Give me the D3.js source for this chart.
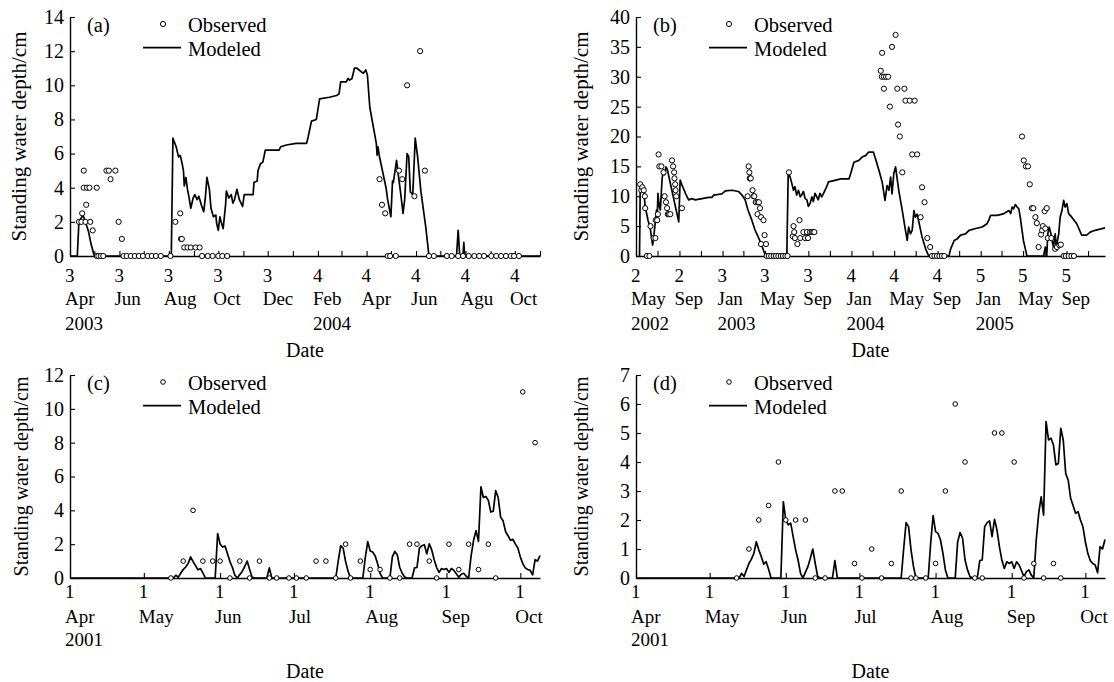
<!DOCTYPE html>
<html><head><meta charset="utf-8">
<script src="https://cdn.jsdelivr.net/npm/d3@7"></script>
<style>
html,body{margin:0;padding:0;background:#fff;}
svg{display:block;}
svg text{font-family:"Liberation Serif","DejaVu Serif",serif !important;fill:#000;}
</style></head><body>
<svg id="chart" width="1114" height="682" font-family="Liberation Serif, serif"></svg>
<script>
// ---------------- DATA ----------------
// Panel (a)
const aModeled = [["2003-04-01",0],["2003-04-10",0],["2003-04-12",2.0],["2003-04-17",2.4],["2003-04-20",2.0],["2003-04-24",1.4],["2003-04-27",0.7],["2003-05-01",0],["2003-08-04",0],["2003-08-06",6.9],["2003-08-10",6.4],["2003-08-13",5.8],["2003-08-15",5.9],["2003-08-17",5.5],["2003-08-19",5.0],["2003-08-20",4.1],["2003-08-22",4.6],["2003-08-24",3.9],["2003-08-26",3.4],["2003-08-28",2.8],["2003-08-31",3.4],["2003-09-02",3.6],["2003-09-05",3.3],["2003-09-07",3.5],["2003-09-10",3.0],["2003-09-13",2.6],["2003-09-15",3.4],["2003-09-17",4.6],["2003-09-20",3.9],["2003-09-22",2.8],["2003-09-25",2.3],["2003-09-28",2.4],["2003-09-29",1.9],["2003-10-01",1.5],["2003-10-03",2.3],["2003-10-04",2.1],["2003-10-07",1.6],["2003-10-10",3.0],["2003-10-11",3.8],["2003-10-14",3.4],["2003-10-17",3.6],["2003-10-19",3.1],["2003-10-21",3.3],["2003-10-24",3.9],["2003-10-27",3.3],["2003-10-31",2.9],["2003-11-02",3.6],["2003-11-13",3.6],["2003-11-14",4.3],["2003-11-18",4.4],["2003-11-19",5.0],["2003-11-22",5.4],["2003-11-25",5.5],["2003-11-28",6.2],["2003-12-15",6.2],["2003-12-17",6.4],["2003-12-24",6.5],["2004-01-05",6.6],["2004-01-18",6.6],["2004-01-20",7.0],["2004-01-24",7.9],["2004-01-30",8.0],["2004-02-03",9.2],["2004-02-15",9.3],["2004-02-24",9.4],["2004-02-27",9.5],["2004-02-29",10.2],["2004-03-07",10.2],["2004-03-09",10.4],["2004-03-11",10.3],["2004-03-14",10.4],["2004-03-17",11.0],["2004-03-20",11.0],["2004-03-28",10.7],["2004-03-31",10.9],["2004-04-02",10.6],["2004-04-05",8.7],["2004-04-13",6.6],["2004-04-14",5.9],["2004-04-15",6.4],["2004-04-17",5.8],["2004-04-25",4.0],["2004-04-27",3.3],["2004-05-01",2.3],["2004-05-03",4.4],["2004-05-04",4.3],["2004-05-08",5.6],["2004-05-10",4.8],["2004-05-13",3.7],["2004-05-16",2.5],["2004-05-18",3.3],["2004-05-21",6.0],["2004-05-23",5.8],["2004-05-25",3.75],["2004-05-28",3.6],["2004-05-31",6.9],["2004-06-03",5.8],["2004-06-07",3.8],["2004-06-13",1.7],["2004-06-17",0],["2004-07-21",0],["2004-07-23",1.5],["2004-07-25",0],["2004-07-29",0],["2004-07-30",0.8],["2004-07-31",0],["2004-11-01",0]];
const aObserved = [["2003-04-12",2],["2003-04-15",2],["2003-04-16",2.5],["2003-04-18",5],["2003-04-18",4],["2003-04-20",2],["2003-04-21",3],["2003-04-22",4],["2003-04-25",4],["2003-04-26",2],["2003-04-29",1.5],["2003-05-04",4],["2003-05-04",0],["2003-05-06",0],["2003-05-09",0],["2003-05-12",0],["2003-05-16",5],["2003-05-19",5],["2003-05-21",4.5],["2003-05-27",5],["2003-05-31",2],["2003-06-04",1],["2003-06-06",0],["2003-06-10",0],["2003-06-15",0],["2003-06-20",0],["2003-06-25",0],["2003-06-30",0],["2003-07-06",0],["2003-07-11",0],["2003-07-16",0],["2003-07-22",0],["2003-08-03",0],["2003-08-09",2],["2003-08-15",2.5],["2003-08-16",1],["2003-08-17",1],["2003-08-20",0.5],["2003-08-24",0.5],["2003-08-28",0.5],["2003-09-03",0.5],["2003-09-08",0.5],["2003-09-11",0],["2003-09-18",0],["2003-09-24",0],["2003-10-01",0],["2003-10-06",0],["2003-10-12",0],["2004-04-17",4.5],["2004-04-20",3],["2004-04-24",2.5],["2004-04-27",0],["2004-04-30",0],["2004-05-07",0],["2004-05-11",5],["2004-05-15",4.5],["2004-05-21",10],["2004-05-30",3.5],["2004-06-06",12],["2004-06-12",5],["2004-06-17",0],["2004-06-23",0],["2004-07-09",0],["2004-07-15",0],["2004-07-23",0],["2004-07-29",0],["2004-08-05",0],["2004-08-12",0],["2004-08-18",0],["2004-08-24",0],["2004-09-02",0],["2004-09-08",0],["2004-09-14",0],["2004-09-20",0],["2004-09-26",0],["2004-09-30",0],["2004-10-06",0]];
const aTickDates  = ["2003-04-01","2003-06-01","2003-08-01","2003-10-01","2003-12-01","2004-02-01","2004-04-01","2004-06-01","2004-08-01","2004-10-01"];
const aTickDigits = ["3","3","3","3","3","4","4","4","4","4"];
const aTickMonths = ["Apr","Jun","Aug","Oct","Dec","Feb","Apr","Jun","Agu","Oct"];
const aTickYears  = ["2003","","","","","2004","","","",""];
const aYTicks = [0,2,4,6,8,10,12,14];

// Panel (b)
const bModeled = [["2002-05-11",0],["2002-05-13",11.6],["2002-05-18",11.9],["2002-05-23",10.8],["2002-05-27",8.3],["2002-06-04",6.0],["2002-06-11",4.35],["2002-06-17",1.8],["2002-06-20",3.0],["2002-06-25",6.0],["2002-06-28",7.7],["2002-06-30",6.0],["2002-07-02",10.5],["2002-07-06",8.3],["2002-07-09",7.7],["2002-07-14",13.0],["2002-07-18",14.4],["2002-07-21",13.6],["2002-07-25",14.9],["2002-07-29",14.4],["2002-08-30",5.7],["2002-09-03",12.7],["2002-09-08",11.9],["2002-09-18",10.5],["2002-09-27",9.4],["2002-10-06",9.6],["2002-10-16",9.4],["2002-11-04",9.6],["2002-11-23",9.8],["2002-12-02",9.8],["2002-12-07",10.2],["2002-12-30",10.4],["2003-01-09",10.9],["2003-01-28",11.0],["2003-02-15",10.8],["2003-02-25",10.2],["2003-03-06",9.4],["2003-03-14",7.7],["2003-03-25",6.0],["2003-04-03",4.35],["2003-04-12",3.2],["2003-04-22",1.8],["2003-04-30",0.45],["2003-05-04",0],["2003-07-02",0],["2003-07-06",13.8],["2003-07-11",13.3],["2003-07-16",12.2],["2003-07-21",11.0],["2003-07-25",11.6],["2003-07-30",10.2],["2003-08-04",11.0],["2003-08-09",9.9],["2003-08-13",10.2],["2003-08-18",10.8],["2003-08-23",9.6],["2003-08-28",9.4],["2003-09-01",8.3],["2003-09-06",8.8],["2003-09-11",9.9],["2003-09-15",9.1],["2003-09-20",10.5],["2003-09-25",9.9],["2003-09-29",9.4],["2003-10-04",10.5],["2003-10-09",9.9],["2003-10-14",10.5],["2003-10-23",11.6],["2003-10-28",12.4],["2003-11-18",12.7],["2003-12-02",12.9],["2003-12-25",12.9],["2003-12-30",13.8],["2004-01-08",15.7],["2004-01-22",16.0],["2004-02-01",16.6],["2004-02-10",16.8],["2004-02-19",17.4],["2004-03-03",17.4],["2004-03-09",16.3],["2004-03-19",14.3],["2004-03-28",12.4],["2004-04-05",9.3],["2004-04-11",11.8],["2004-04-16",11.0],["2004-04-21",13.2],["2004-04-25",10.4],["2004-04-30",13.8],["2004-05-05",14.9],["2004-05-10",12.7],["2004-05-14",11.0],["2004-05-24",7.6],["2004-06-02",4.3],["2004-06-07",2.6],["2004-06-11",4.85],["2004-06-16",3.7],["2004-06-21",4.3],["2004-06-26",7.6],["2004-06-30",6.5],["2004-07-05",7.0],["2004-07-10",5.7],["2004-07-15",4.3],["2004-07-19",3.2],["2004-07-29",1.2],["2004-08-07",0],["2004-10-03",0],["2004-10-08",1.2],["2004-10-18",2.6],["2004-10-27",2.9],["2004-11-05",3.5],["2004-11-19",3.7],["2004-11-29",4.3],["2004-12-18",4.6],["2005-01-05",4.85],["2005-01-19",5.4],["2005-01-24",6.0],["2005-01-29",6.8],["2005-02-17",6.8],["2005-03-08",7.1],["2005-03-22",7.6],["2005-03-27",7.1],["2005-03-31",8.2],["2005-04-04",7.9],["2005-04-09",8.6],["2005-04-14",8.2],["2005-04-19",7.9],["2005-04-23",6.5],["2005-05-02",2.6],["2005-05-12",0],["2005-06-28",0],["2005-07-03",1.5],["2005-07-07",0],["2005-07-10",3.7],["2005-07-14",4.85],["2005-07-19",3.7],["2005-07-22",2.6],["2005-07-26",1.5],["2005-07-31",3.7],["2005-08-03",1.5],["2005-08-10",3.7],["2005-08-14",6.5],["2005-08-19",7.6],["2005-08-24",9.3],["2005-08-28",8.2],["2005-09-02",8.75],["2005-09-07",7.1],["2005-09-16",6.5],["2005-09-30",5.4],["2005-10-14",3.5],["2005-10-28",3.5],["2005-11-07",4.0],["2005-11-21",4.3],["2005-12-19",4.7]];
const bObserved = [["2002-05-13",12],["2002-05-16",11],["2002-05-19",11.5],["2002-05-23",11],["2002-05-26",10],["2002-05-27",8],["2002-06-01",0],["2002-06-08",0],["2002-06-11",5],["2002-06-20",3],["2002-06-25",3],["2002-06-26",6],["2002-06-30",6],["2002-07-02",7],["2002-07-04",17],["2002-07-06",15],["2002-07-12",15],["2002-07-18",14],["2002-07-21",10],["2002-07-25",9],["2002-07-28",8],["2002-07-30",7],["2002-08-02",7],["2002-08-06",7],["2002-08-11",16],["2002-08-14",15],["2002-08-17",14],["2002-08-18",13],["2002-08-20",12],["2002-08-21",11],["2002-08-23",10],["2002-09-08",8],["2003-03-13",10],["2003-03-16",15],["2003-03-18",14],["2003-03-19",13],["2003-03-20",13],["2003-03-22",13],["2003-03-27",11],["2003-03-30",10],["2003-04-01",10],["2003-04-05",9],["2003-04-10",9],["2003-04-10",7],["2003-04-14",9],["2003-04-17",8],["2003-04-20",6.5],["2003-04-20",2],["2003-04-27",6],["2003-04-30",3.5],["2003-05-04",2],["2003-05-06",0],["2003-05-12",0],["2003-05-19",0],["2003-05-26",0],["2003-06-01",0],["2003-06-08",0],["2003-06-15",0],["2003-06-21",0],["2003-06-28",0],["2003-07-04",0],["2003-07-08",14],["2003-07-19",3.3],["2003-07-21",5],["2003-07-23",4],["2003-07-25",3],["2003-08-01",2],["2003-08-07",6],["2003-08-09",3],["2003-08-18",4],["2003-08-23",3],["2003-08-28",4],["2003-08-31",3],["2003-09-06",4],["2003-09-11",4],["2003-09-15",4],["2003-09-18",4],["2004-03-24",31],["2004-03-27",30],["2004-03-28",34],["2004-04-02",30],["2004-04-02",28],["2004-04-08",30],["2004-04-14",30],["2004-04-19",25],["2004-04-25",35],["2004-05-05",37],["2004-05-10",28],["2004-05-12",22],["2004-05-17",20],["2004-05-24",14],["2004-05-30",28],["2004-06-02",26],["2004-06-14",26],["2004-06-21",17],["2004-06-28",26],["2004-07-05",17],["2004-07-15",6.5],["2004-07-19",11.5],["2004-07-26",9],["2004-08-03",3],["2004-08-11",1.5],["2004-08-16",0],["2004-08-23",0],["2004-08-30",0],["2004-09-06",0],["2004-09-13",0],["2004-09-20",0],["2005-04-28",20],["2005-05-03",16],["2005-05-09",15],["2005-05-15",15],["2005-05-20",12],["2005-05-26",8],["2005-05-30",8],["2005-06-05",6.5],["2005-06-09",5.5],["2005-06-14",1.5],["2005-06-21",3.6],["2005-06-24",4.3],["2005-06-26",5],["2005-07-01",7.5],["2005-07-03",4.6],["2005-07-07",8],["2005-07-10",3],["2005-07-20",3],["2005-07-31",1.2],["2005-08-05",1.5],["2005-08-12",1.8],["2005-08-16",1.9],["2005-08-24",0],["2005-08-30",0],["2005-09-07",0],["2005-09-15",0],["2005-09-22",0]];
const bTickDates  = ["2002-05-01","2002-09-01","2003-01-01","2003-05-01","2003-09-01","2004-01-01","2004-05-01","2004-09-01","2005-01-01","2005-05-01","2005-09-01"];
const bTickDigits = ["2","2","3","3","3","4","4","4","5","5","5"];
const bTickMonths = ["May","Sep","Jan","May","Sep","Jan","May","Sep","Jan","May","Sep"];
const bTickYears  = ["2002","","2003","","","2004","","","2005","",""];
const bYTicks = [0,5,10,15,20,25,30,35,40];

// Panels (c) and (d): same modeled series
const cdModeled = [["2001-04-01",0],["2001-05-13",0],["2001-05-14",0.16],["2001-05-15",0.05],["2001-05-16",0.28],["2001-05-17",0.5],["2001-05-18",0.65],["2001-05-19",0.85],["2001-05-20",1.25],["2001-05-21",0.97],["2001-05-22",0.74],["2001-05-23",0.48],["2001-05-24",0.56],["2001-05-25",0.3],["2001-05-26",0],["2001-05-30",0],["2001-05-31",2.63],["2001-06-01",2.0],["2001-06-02",1.83],["2001-06-03",1.89],["2001-06-04",1.43],["2001-06-05",0.97],["2001-06-06",0.62],["2001-06-07",0.16],["2001-06-08",0],["2001-06-09",0.2],["2001-06-10",0.39],["2001-06-11",0.68],["2001-06-12",1.0],["2001-06-13",0.5],["2001-06-14",0.05],["2001-06-15",0],["2001-06-20",0],["2001-06-21",0.6],["2001-06-22",0],["2001-07-18",0],["2001-07-19",1.0],["2001-07-20",1.91],["2001-07-21",1.77],["2001-07-22",0.97],["2001-07-23",0.4],["2001-07-24",0],["2001-07-29",0],["2001-07-30",1.2],["2001-07-31",2.15],["2001-08-01",1.6],["2001-08-02",1.54],["2001-08-03",1.31],["2001-08-04",0.85],["2001-08-05",0.28],["2001-08-06",0],["2001-08-09",0],["2001-08-10",1.25],["2001-08-11",1.57],["2001-08-12",1.37],["2001-08-13",0.62],["2001-08-14",0.28],["2001-08-15",0.05],["2001-08-16",0],["2001-08-18",0],["2001-08-19",0.6],["2001-08-20",0.62],["2001-08-21",1.77],["2001-08-22",1.91],["2001-08-23",1.97],["2001-08-24",1.43],["2001-08-25",2.02],["2001-08-26",1.66],["2001-08-27",1.08],["2001-08-28",0.62],["2001-08-29",0.33],["2001-08-30",0.56],["2001-08-31",0.5],["2001-09-01",0.56],["2001-09-02",0.33],["2001-09-03",0.56],["2001-09-04",0.45],["2001-09-05",0.25],["2001-09-06",0.05],["2001-09-07",0.22],["2001-09-08",0.28],["2001-09-09",0.1],["2001-09-10",0],["2001-09-11",1.31],["2001-09-12",2.23],["2001-09-13",2.8],["2001-09-14",2.17],["2001-09-15",5.39],["2001-09-16",4.76],["2001-09-17",4.82],["2001-09-18",4.59],["2001-09-19",3.9],["2001-09-20",3.95],["2001-09-21",5.16],["2001-09-22",4.76],["2001-09-23",3.6],["2001-09-24",3.38],["2001-09-25",2.75],["2001-09-26",2.5],["2001-09-27",2.23],["2001-09-28",2.29],["2001-09-29",2.0],["2001-09-30",1.77],["2001-10-01",1.25],["2001-10-02",0.85],["2001-10-03",0.6],["2001-10-04",0.5],["2001-10-05",0.45],["2001-10-06",0.18],["2001-10-07",1.08],["2001-10-08",1.0],["2001-10-09",1.33]];
const cObserved = [["2001-05-12",0],["2001-05-17",1],["2001-05-21",4],["2001-05-25",1],["2001-05-29",1],["2001-06-01",1],["2001-06-05",0],["2001-06-09",1],["2001-06-13",0],["2001-06-17",1],["2001-06-21",0],["2001-06-24",0],["2001-06-29",0],["2001-07-02",0],["2001-07-06",0],["2001-07-10",1],["2001-07-14",1],["2001-07-18",0],["2001-07-22",2],["2001-07-24",0],["2001-07-28",1],["2001-08-01",0.5],["2001-08-05",0.5],["2001-08-09",0],["2001-08-13",0],["2001-08-17",2],["2001-08-20",2],["2001-08-25",1],["2001-08-28",0],["2001-09-02",2],["2001-09-06",0.5],["2001-09-10",2],["2001-09-14",0.5],["2001-09-18",2],["2001-09-21",0],["2001-10-02",11],["2001-10-07",8]];
const dObserved = [["2001-05-12",0],["2001-05-17",1],["2001-05-21",2],["2001-05-25",2.5],["2001-05-29",4],["2001-06-01",2],["2001-06-05",2],["2001-06-09",2],["2001-06-13",0],["2001-06-17",0],["2001-06-21",3],["2001-06-24",3],["2001-06-29",0.5],["2001-07-02",0],["2001-07-06",1],["2001-07-10",0],["2001-07-14",0.5],["2001-07-18",3],["2001-07-22",0],["2001-07-24",0],["2001-07-28",0],["2001-08-01",0.5],["2001-08-05",3],["2001-08-09",6],["2001-08-13",4],["2001-08-17",0],["2001-08-20",0],["2001-08-25",5],["2001-08-28",5],["2001-09-02",4],["2001-09-06",0],["2001-09-10",0.5],["2001-09-14",0],["2001-09-18",0.5],["2001-09-21",0]];
const cdTickDates  = ["2001-04-01","2001-05-01","2001-06-01","2001-07-01","2001-08-01","2001-09-01","2001-10-01"];
const cdTickDigits = ["1","1","1","1","1","1","1"];
const cdTickMonths = ["Apr","May","Jun","Jul","Aug","Sep","Oct"];
const cdTickYears  = ["2001","","","","","",""];
const cYTicks = [0,2,4,6,8,10,12];
const dYTicks = [0,1,2,3,4,5,6,7];

const legendLabels = ["Observed","Modeled"];
const yTitle = "Standing water depth/cm";
const xTitle = "Date";

// ---------------- DRAW ----------------
const FONT = '"Liberation Serif","DejaVu Serif",serif';
const parse = d3.timeParse("%Y-%m-%d");
const svg = d3.select("#chart");

const panels = [
  {tag:"(a)", left:70, right:540, top:17, bottom:256, xDomain:["2003-04-01","2004-11-01"], tickEvery:1,
   yTicks:aYTicks, modeled:aModeled, observed:aObserved, r:2.6,
   labDates:aTickDates, labDigits:aTickDigits, labMonths:aTickMonths, labYears:aTickYears,
   lab:[26,49,74,101], titleX:26, titleSize:21},
  {tag:"(b)", left:636, right:1105, top:17, bottom:256, xDomain:["2002-05-01","2005-12-19"], tickEvery:2,
   yTicks:bYTicks, modeled:bModeled, observed:bObserved, r:2.6,
   labDates:bTickDates, labDigits:bTickDigits, labMonths:bTickMonths, labYears:bTickYears,
   lab:[26,49,74,101], titleX:588, titleSize:21},
  {tag:"(c)", left:70, right:540, top:375, bottom:578, xDomain:["2001-04-01","2001-10-09"], tickEvery:1,
   yTicks:cYTicks, modeled:cdModeled, observed:cObserved, r:2.3,
   labDates:cdTickDates, labDigits:cdTickDigits, labMonths:cdTickMonths, labYears:cdTickYears,
   lab:[20,45,68,100], titleX:28, titleSize:20},
  {tag:"(d)", left:636, right:1105, top:375, bottom:578, xDomain:["2001-04-01","2001-10-09"], tickEvery:1,
   yTicks:dYTicks, modeled:cdModeled, observed:dObserved, r:2.3,
   labDates:cdTickDates, labDigits:cdTickDigits, labMonths:cdTickMonths, labYears:cdTickYears,
   lab:[20,45,68,100], titleX:588, titleSize:20}
];

function txt(sel) { return sel.attr("font-family", FONT).style("font-family", FONT).attr("fill", "#000"); }

panels.forEach(p => {
  const x = d3.scaleTime().domain(p.xDomain.map(parse)).range([p.left, p.right]);
  const yMax = d3.max(p.yTicks);
  const y = d3.scaleLinear().domain([0, yMax]).range([p.bottom, p.top]);
  const g = svg.append("g");

  // x axis (inward ticks)
  const xa = g.append("g").attr("transform", `translate(0,${p.bottom})`)
    .call(d3.axisBottom(x).ticks(d3.timeMonth.every(p.tickEvery)).tickSizeInner(-5).tickSizeOuter(0).tickFormat(""));
  xa.select(".domain").attr("stroke-width", 1.4);
  xa.selectAll(".tick line").attr("stroke-width", 1.1);

  // y axis
  const ya = g.append("g").attr("transform", `translate(${p.left},0)`)
    .call(d3.axisLeft(y).tickValues(p.yTicks).tickFormat(d3.format("d")).tickSizeInner(-5).tickSizeOuter(0).tickPadding(6));
  ya.select(".domain").attr("stroke-width", 1.4);
  ya.selectAll(".tick line").attr("stroke-width", 1.1);
  ya.attr("font-family", FONT).attr("font-size", 20);
  txt(ya.selectAll(".tick text")).attr("font-size", 20);

  // x tick labels (three lines, left aligned)
  p.labDates.forEach((ds, i) => {
    const tx = x(parse(ds)) - 5;
    const t = txt(g.append("text")).attr("font-size", 19).attr("text-anchor", "start");
    t.append("tspan").attr("x", tx).attr("y", p.bottom + p.lab[0]).text(p.labDigits[i]);
    t.append("tspan").attr("x", tx).attr("y", p.bottom + p.lab[1]).text(p.labMonths[i]);
    if (p.labYears[i]) t.append("tspan").attr("x", tx).attr("y", p.bottom + p.lab[2]).text(p.labYears[i]);
  });

  // x title
  txt(g.append("text")).attr("x", (p.left + p.right) / 2).attr("y", p.bottom + p.lab[3])
    .attr("text-anchor", "middle").attr("font-size", 20).text(xTitle);

  // y title
  txt(g.append("text")).attr("transform", `translate(${p.titleX},${(p.top + p.bottom) / 2}) rotate(-90)`)
    .attr("text-anchor", "middle").attr("font-size", p.titleSize).text(yTitle);

  // modeled line
  const line = d3.line().x(d => x(parse(d[0]))).y(d => y(d[1]));
  g.append("path").datum(p.modeled).attr("d", line)
    .attr("fill", "none").attr("stroke", "#000").attr("stroke-width", 1.7).attr("stroke-linejoin", "round");

  // observed points
  g.selectAll("circle.obs").data(p.observed).join("circle").attr("class", "obs")
    .attr("cx", d => x(parse(d[0]))).attr("cy", d => y(d[1])).attr("r", p.r)
    .attr("fill", "#fff").attr("stroke", "#000").attr("stroke-width", 1);

  // panel tag + legend
  txt(g.append("text")).attr("x", p.left + 17).attr("y", p.top + 14.5).attr("font-size", 20.5).text(p.tag);
  g.append("circle").attr("cx", p.left + 93).attr("cy", p.top + 7).attr("r", p.r)
    .attr("fill", "#fff").attr("stroke", "#000").attr("stroke-width", 1);
  txt(g.append("text")).attr("x", p.left + 118).attr("y", p.top + 14.5).attr("font-size", 20.5).text(legendLabels[0]);
  g.append("line").attr("x1", p.left + 73).attr("x2", p.left + 111).attr("y1", p.top + 30.7).attr("y2", p.top + 30.7)
    .attr("stroke", "#000").attr("stroke-width", 1.7);
  txt(g.append("text")).attr("x", p.left + 118).attr("y", p.top + 39).attr("font-size", 20.5).text(legendLabels[1]);
});
</script>
</body></html>
